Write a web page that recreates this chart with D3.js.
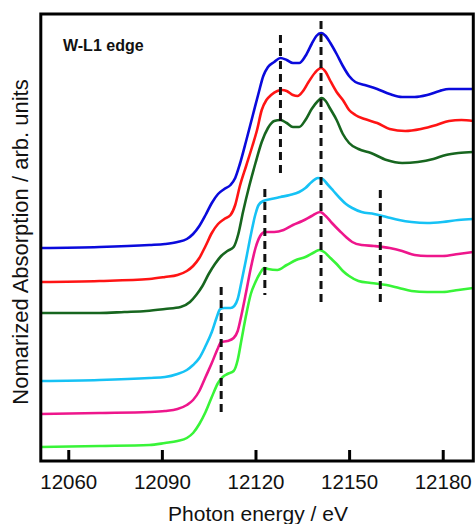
<!DOCTYPE html>
<html><head><meta charset="utf-8">
<script src="https://cdn.jsdelivr.net/npm/d3@7/dist/d3.min.js"></script>
<style>
html,body{margin:0;padding:0;background:#fff;}
svg{display:block;}
text{font-family:"Liberation Sans",Arial,sans-serif;fill:#111;}
</style></head>
<body>
<svg id="chart" width="476" height="524"></svg>
<script>
// ---- data: photon energy (eV), normalized absorption with vertical offsets ----
const xTicks = [12060, 12090, 12120, 12150, 12180];

const blueSpec = [[12051,2.14],[12070,2.15],[12086,2.17],[12091,2.18],[12095,2.20],[12098,2.23],[12100,2.28],[12102,2.36],[12104,2.47],[12106,2.59],[12108,2.68],[12110,2.73],[12112,2.77],[12113.5,2.84],[12115,2.98],[12117,3.21],[12119,3.45],[12121,3.69],[12122.5,3.86],[12124,3.95],[12126,4.00],[12128,4.04],[12130,4.02],[12132,3.99],[12134,3.99],[12136,4.06],[12138,4.18],[12139.5,4.26],[12141,4.29],[12142.5,4.26],[12144,4.19],[12146,4.08],[12148,3.96],[12150,3.86],[12152,3.80],[12155,3.77],[12159,3.73],[12163,3.68],[12167,3.65],[12171,3.65],[12175,3.67],[12179,3.71],[12182,3.73],[12189.8,3.73]];

const redSpec = [[12051,1.80],[12070,1.81],[12086,1.83],[12091,1.85],[12095,1.87],[12098,1.91],[12100,1.96],[12102,2.04],[12104,2.16],[12106,2.29],[12108,2.38],[12110,2.43],[12112,2.47],[12113.5,2.57],[12115,2.76],[12117,2.96],[12119,3.16],[12120.5,3.32],[12122,3.52],[12123.5,3.62],[12125,3.67],[12127,3.71],[12128.5,3.72],[12130,3.71],[12132,3.67],[12133.5,3.66],[12135,3.70],[12137,3.80],[12139,3.89],[12141,3.94],[12142.5,3.90],[12144,3.81],[12146,3.70],[12148,3.62],[12150,3.52],[12152,3.47],[12155,3.43],[12159,3.39],[12163,3.33],[12168,3.31],[12173,3.33],[12178,3.37],[12182,3.41],[12186,3.42],[12189.8,3.41]];

const darkGreenSpec = [[12051,1.49],[12070,1.49],[12078,1.50],[12085,1.51],[12091,1.53],[12096,1.55],[12099,1.60],[12101,1.67],[12103,1.76],[12105,1.88],[12107,1.98],[12109,2.06],[12111,2.11],[12113,2.15],[12114.5,2.28],[12116,2.50],[12118,2.76],[12120,2.99],[12122,3.20],[12124,3.34],[12126,3.41],[12128,3.42],[12130,3.39],[12132,3.35],[12134,3.35],[12136,3.42],[12138,3.53],[12140,3.61],[12141.2,3.64],[12142.5,3.61],[12144,3.53],[12146,3.42],[12148,3.28],[12150,3.19],[12153,3.13],[12157,3.09],[12162,3.02],[12167,2.99],[12172,3.00],[12177,3.03],[12181,3.07],[12185,3.09],[12189.8,3.10]];

const cyanSpec = [[12051,0.81],[12070,0.82],[12086,0.84],[12091,0.85],[12095,0.88],[12098,0.92],[12100,0.97],[12102,1.04],[12104,1.16],[12106,1.30],[12107.5,1.44],[12108.7,1.53],[12110,1.54],[12112,1.54],[12113.2,1.56],[12114.3,1.63],[12115.5,1.80],[12117,2.03],[12118.5,2.27],[12120,2.48],[12121,2.57],[12122.5,2.61],[12125,2.63],[12128,2.65],[12131,2.67],[12134,2.70],[12136,2.74],[12138,2.80],[12140,2.84],[12141.5,2.83],[12143,2.78],[12145,2.71],[12147,2.64],[12149,2.58],[12151,2.54],[12154,2.50],[12158,2.48],[12162,2.45],[12166,2.42],[12170,2.40],[12175,2.39],[12180,2.40],[12185,2.42],[12189.8,2.43]];

const pinkSpec = [[12051,0.48],[12070,0.49],[12086,0.50],[12091,0.51],[12095,0.53],[12098,0.57],[12100,0.62],[12102,0.71],[12104,0.85],[12106,0.99],[12108,1.14],[12109,1.20],[12111,1.21],[12113,1.24],[12114.3,1.31],[12115.5,1.47],[12117,1.70],[12118.5,1.94],[12120,2.14],[12121.5,2.26],[12123,2.30],[12126,2.30],[12129,2.32],[12132,2.37],[12135,2.41],[12138,2.46],[12140.7,2.50],[12142.5,2.46],[12144.5,2.39],[12147,2.31],[12149,2.25],[12151,2.20],[12154,2.17],[12158,2.16],[12163,2.14],[12167,2.11],[12171,2.07],[12175,2.06],[12180,2.06],[12185,2.08],[12189.8,2.10]];

const greenSpec = [[12051,0.15],[12070,0.16],[12086,0.17],[12091,0.19],[12095,0.21],[12098,0.24],[12100,0.29],[12102,0.38],[12104,0.50],[12106,0.65],[12108,0.79],[12109.5,0.85],[12111,0.88],[12113,0.91],[12114.3,1.02],[12115.5,1.22],[12117,1.47],[12118.5,1.68],[12120,1.80],[12121.5,1.89],[12122.8,1.94],[12124,1.93],[12127,1.92],[12130,1.97],[12133,2.02],[12136,2.05],[12139,2.10],[12140.5,2.12],[12142,2.10],[12144,2.04],[12146,1.98],[12148,1.91],[12150,1.86],[12153,1.81],[12157,1.79],[12162,1.77],[12166,1.74],[12170,1.71],[12175,1.70],[12180,1.70],[12185,1.72],[12189.8,1.74]];

const seriesNames = ["blue","red","darkGreen","cyan","pink","green"];
const seriesData = [blueSpec, redSpec, darkGreenSpec, cyanSpec, pinkSpec, greenSpec];
const seriesColors = ["#0a0adc","#ff1414","#17661f","#16c2f5","#ee168c","#38f438"];

// dashed guide lines: energy, y from, y to
const guideE = [12109, 12123, 12128, 12141, 12160];
const guideFrom = [0.45, 1.67, 2.89, 1.60, 1.59];
const guideTo = [1.75, 2.73, 4.27, 4.41, 2.72];

// ---- drawing ----
(function(){
const svg = d3.select("#chart");
const pL = 40.8, pR = 473.3, pT = 14, pB = 461;

const x = d3.scaleLinear().domain([12051.2, 12189.8]).range([pL, pR]);
const y = d3.scaleLinear().domain([0, 4.48]).range([462, 14]);

svg.append("clipPath").attr("id","clip").append("rect")
  .attr("x", pL).attr("y", pT).attr("width", pR-pL).attr("height", pB-pT);

const line = d3.line().x(d => x(d[0])).y(d => y(d[1])).curve(d3.curveMonotoneX);

const g = svg.append("g").attr("clip-path","url(#clip)");
seriesData.forEach((s,i) => {
  g.append("path").datum(s).attr("d", line)
    .attr("fill","none").attr("stroke", seriesColors[i])
    .attr("stroke-width", 2.6).attr("stroke-linejoin","round").attr("stroke-linecap","round");
});

guideE.forEach((e,i) => {
  svg.append("line")
    .attr("x1", x(e)).attr("x2", x(e))
    .attr("y1", y(guideTo[i])).attr("y2", y(guideFrom[i]))
    .attr("stroke","#111").attr("stroke-width",3).attr("stroke-dasharray","8,5");
});

svg.append("rect").attr("x", pL).attr("y", pT).attr("width", pR-pL).attr("height", pB-pT)
  .attr("fill","none").attr("stroke","#000").attr("stroke-width",3);

const ax = svg.append("g").attr("transform", `translate(0,${pB})`)
  .call(d3.axisBottom(x).tickValues(xTicks).tickFormat(d3.format("d")).tickSizeInner(-11).tickSizeOuter(0).tickPadding(13.5));
ax.select(".domain").remove();
ax.selectAll(".tick line").attr("stroke","#000").attr("stroke-width",3);
ax.selectAll(".tick text").attr("font-size","20.5px").attr("font-family","'Liberation Sans',Arial,sans-serif").attr("fill","#111");

svg.append("text").attr("x", 258).attr("y", 521).attr("text-anchor","middle")
  .attr("font-size","21px").text("Photon energy / eV");

svg.append("text").attr("transform","translate(27.5,242) rotate(-90)").attr("text-anchor","middle")
  .attr("font-size","22px").text("Nomarized Absorption / arb. units");

svg.append("text").attr("x", 63).attr("y", 51).attr("font-size","16px").attr("font-weight","bold")
  .text("W-L1 edge");
})();
</script>
</body></html>
